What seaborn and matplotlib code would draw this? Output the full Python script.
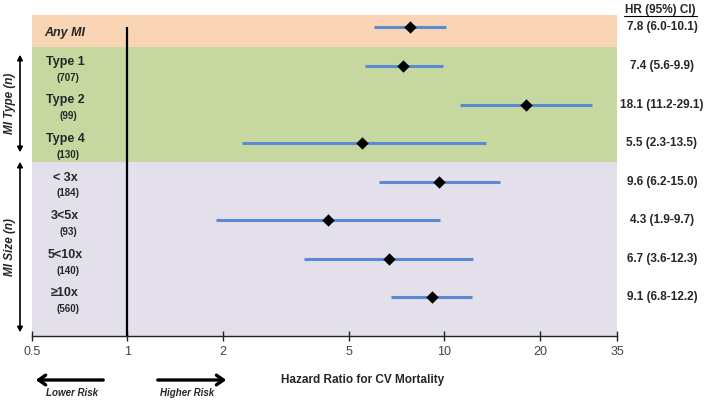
import numpy as np
import pandas as pd
import matplotlib
matplotlib.use("Agg")
import matplotlib.pyplot as plt
import matplotlib.transforms as mtransforms
import seaborn as sns

# forest plot data
names = ["Any MI", "Type 1", "Type 2", "Type 4", "< 3x", "3<5x", "5<10x", "\u226510x"]
counts = ["", "(707)", "(99)", "(130)", "(184)", "(93)", "(140)", "(560)"]
hr = [7.8, 7.4, 18.1, 5.5, 9.6, 4.3, 6.7, 9.1]
ci_low = [6.0, 5.6, 11.2, 2.3, 6.2, 1.9, 3.6, 6.8]
ci_high = [10.1, 9.9, 29.1, 13.5, 15.0, 9.7, 12.3, 12.2]
xticks = [0.5, 1, 2, 5, 10, 20, 35]

df = pd.DataFrame({"name": names, "n": counts, "hr": hr, "lo": ci_low, "hi": ci_high})
df["row"] = np.arange(len(df))
df["label"] = [f"{h} ({l}-{u})" for h, l, u in zip(df.hr, df.lo, df.hi)]

sns.set_style("white")
plt.rcParams["font.family"] = ["Liberation Sans", "DejaVu Sans"]

W, H = 709, 400
fig = plt.figure(figsize=(W / 100, H / 100), dpi=100)
ax = fig.add_axes([32 / W, 1 - 336 / H, (617 - 32) / W, (336 - 15) / H])

def fx(x):
    return x / W

def fy(y):
    return 1 - y / H

# coloured bands
ax.axhspan(-0.32, 0.5, color="#F9D5B6", zorder=0, lw=0)
ax.axhspan(0.5, 3.5, color="#C6D89F", zorder=0, lw=0)
ax.axhspan(3.5, 8.0, color="#E3DFEB", zorder=0, lw=0)

# reference line at HR = 1
ax.vlines(1, 0, 8.0, color="black", lw=1.6, zorder=2)

# CI lines and point estimates
ax.hlines(df.row, df.lo, df.hi, color="#5A8BD2", lw=2.2, zorder=3)
sns.scatterplot(data=df, x="hr", y="row", marker="D", color="black", s=40,
                edgecolor="black", linewidth=0, ax=ax, zorder=4, legend=False)

ax.set_xscale("log")
ax.set_xlim(0.5, 35)
ax.set_ylim(8.0, -0.32)
ax.set_xticks(xticks)
ax.set_xticklabels([str(t) for t in xticks])
ax.minorticks_off()
ax.set_yticks([])
ax.set_xlabel("")
ax.set_ylabel("")
for s in ["top", "right", "left"]:
    ax.spines[s].set_visible(False)
ax.spines["bottom"].set_color("#222222")
ax.spines["bottom"].set_linewidth(1.0)
ax.tick_params(axis="x", direction="inout", length=7, width=1.0, color="#222222",
               labelsize=9, labelcolor="#444444", pad=4, bottom=True)

# row labels inside the plot
trans = mtransforms.blended_transform_factory(ax.transAxes, ax.transData)
xname = (65 - 32) / (617 - 32)
xn = (68 - 32) / (617 - 32)
for _, r in df.iterrows():
    if r["row"] == 0:
        ax.annotate(r["name"], (xname, r["row"]), xycoords=trans, xytext=(0, -4),
                    textcoords="offset points", ha="center", va="center",
                    fontsize=9, fontweight="bold", fontstyle="italic")
        continue
    ax.annotate(r["name"], (xname, r["row"]), xycoords=trans, xytext=(0, 3),
                textcoords="offset points", ha="center", va="center",
                fontsize=9, fontweight="bold")
    ax.annotate(r["n"], (xn, r["row"]), xycoords=trans, xytext=(0, -8.5),
                textcoords="offset points", ha="center", va="center",
                fontsize=7, fontweight="bold")

# HR column on the right
for _, r in df.iterrows():
    ax.annotate(r["label"], (0, r["row"]), xycoords=("figure fraction", "data"),
                xytext=(fx(662), 0), textcoords=("figure fraction", "offset points"),
                ha="center", va="center", fontsize=8.5, fontweight="bold")
fig.text(fx(660), fy(10), "HR (95%) CI)", ha="center", va="center",
         fontsize=8.5, fontweight="bold")
fig.add_artist(plt.Line2D([fx(624), fx(697)], [fy(16), fy(16)], color="black", lw=0.8))

# group brackets on the left
for y0, y1, txt in [(52, 155, "MI Type (n)"), (159, 335, "MI Size (n)")]:
    fig.add_artist(matplotlib.patches.FancyArrowPatch(
        (fx(20), fy(y0)), (fx(20), fy(y1)), transform=fig.transFigure,
        arrowstyle="<|-|>,head_length=3,head_width=1.6", color="black", lw=1.2))
    fig.text(fx(10), fy((y0 + y1) / 2), txt, rotation=90, ha="center", va="center",
             fontsize=8.5, fontweight="bold", fontstyle="italic")

# bottom annotations
fig.add_artist(matplotlib.patches.FancyArrowPatch(
    (fx(106), fy(380)), (fx(33), fy(380)), transform=fig.transFigure,
    arrowstyle="->,head_length=5,head_width=3.5", color="black", lw=2.4))
fig.add_artist(matplotlib.patches.FancyArrowPatch(
    (fx(155), fy(380)), (fx(229), fy(380)), transform=fig.transFigure,
    arrowstyle="->,head_length=5,head_width=3.5", color="black", lw=2.4))
fig.text(fx(72), fy(393), "Lower Risk", ha="center", va="center",
         fontsize=7, fontweight="bold", fontstyle="italic")
fig.text(fx(187), fy(393), "Higher Risk", ha="center", va="center",
         fontsize=7, fontweight="bold", fontstyle="italic")
fig.text(fx(363), fy(380), "Hazard Ratio for CV Mortality", ha="center", va="center",
         fontsize=8.5, fontweight="bold")

fig.savefig("out.png", dpi=100)
